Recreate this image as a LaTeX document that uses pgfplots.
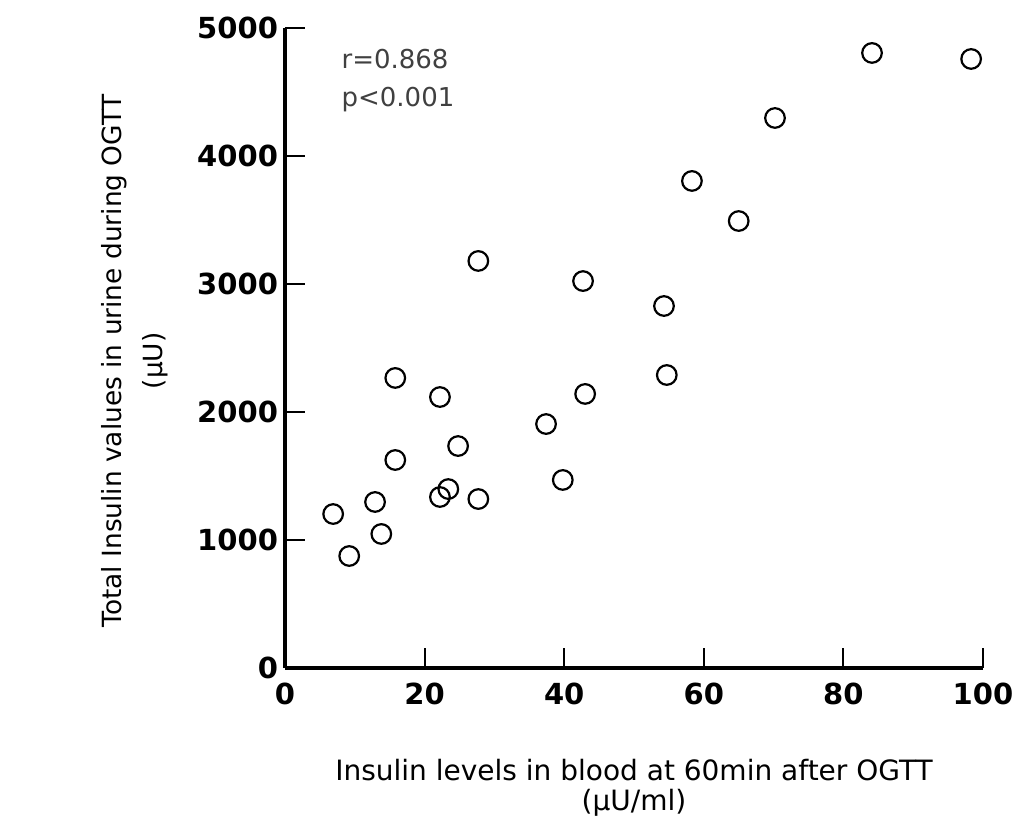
\documentclass[border=0pt]{standalone}
\usepackage{fontspec}
\setmainfont{DejaVu Sans}
\usepackage{pgfplots}
\pgfplotsset{compat=1.18}

\begin{document}
\begin{tikzpicture}
\useasboundingbox (-142.5pt,-77.5pt) rectangle (366.5pt,334pt);
\begin{axis}[
    at={(0,0)}, anchor=south west,
    width=349pt, height=320pt, scale only axis,
    xmin=0, xmax=100, ymin=0, ymax=5000,
    axis x line=bottom, axis y line=left,
    axis line style={-, line width=1.6pt, black},
    xtick={0,20,...,100}, ytick={0,1000,...,5000},
    tick align=inside, major tick length=10pt,
    tick style={line width=1pt, black},
    ticklabel style={font=\bfseries\fontsize{14.5}{16}\selectfont},
    x tick label style={yshift=-4pt},
    /pgf/number format/assume math mode=true,
    scaled y ticks=false,
    y tick label style={/pgf/number format/1000 sep={}},
    xlabel={Insulin levels in blood at 60min after OGTT\\(μU/ml)},
    xlabel style={align=center, font=\fontsize{14}{15}\selectfont,
        at={(axis description cs:0.5,0)}, anchor=north, yshift=-42pt},
    ylabel={Total Insulin values in urine during OGTT\\[5pt](μU)},
    ylabel style={align=center, font=\fontsize{13.2}{15.5}\selectfont,
        at={(axis description cs:0,0.48)}, anchor=south, yshift=55pt},
    clip=false,
]
\addplot[only marks, mark=o, mark size=4.9pt, mark options={line width=1.1pt, black}] coordinates {
    (6.9,1203) (9.2,875) (12.9,1297) (13.8,1047) (15.8,1625) (15.8,2266)
    (22.2,2117) (22.2,1336) (23.4,1398) (24.8,1734) (27.7,1320) (27.7,3180)
    (37.4,1906) (39.8,1469) (42.7,3023) (43.0,2141) (54.3,2828) (54.7,2289)
    (58.3,3805) (65.0,3492) (70.2,4297) (84.1,4805) (98.3,4758)
};
\node[anchor=west, text=black!75, font=\fontsize{13}{19}\selectfont, align=left]
    at (axis cs:7.1,4590) {r=0.868\\p<0.001};
\end{axis}
\end{tikzpicture}
\end{document}
